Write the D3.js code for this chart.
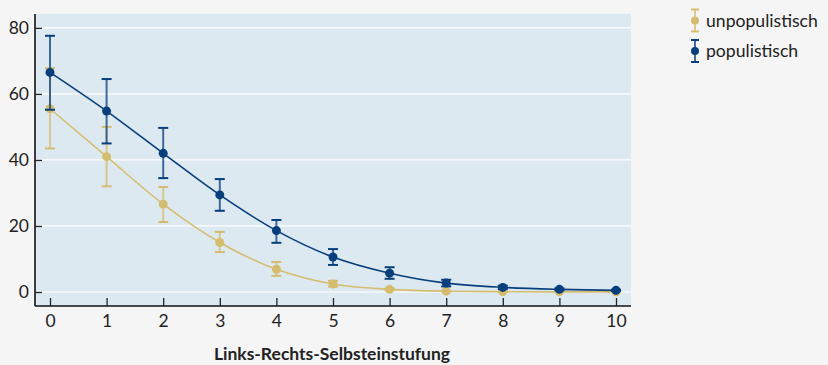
<!DOCTYPE html>
<html><head><meta charset="utf-8">
<script src="https://cdn.jsdelivr.net/npm/d3@7"></script>
<style>
body{margin:0;background:#f5f5f5;}
svg{display:block;font-family:Lato,"Open Sans",sans-serif;}
</style></head><body>
<svg id="c" width="828" height="365"></svg>
<script>
const xValues = [0,1,2,3,4,5,6,7,8,9,10];
const seriesNames = ["unpopulistisch","populistisch"];
const unpopMean  = [55.5,41.0,26.6,15.0,6.9,2.4,0.8,0.25,0.1,0.05,0.03];
const unpopLow   = [43.5,32.0,21.2,12.1,4.9,1.6,0.5,0.15,0.05,0.02,0.01];
const unpopHigh  = [67.8,50.0,31.8,18.2,9.1,3.4,1.1,0.35,0.15,0.08,0.05];
const popMean    = [66.5,54.8,42.0,29.4,18.6,10.6,5.7,2.7,1.4,0.8,0.5];
const popLow     = [55.2,45.0,34.5,24.6,14.9,8.2,4.0,1.7,0.9,0.5,0.3];
const popHigh    = [77.6,64.5,49.7,34.2,21.8,13.0,7.5,3.7,1.9,1.1,0.7];
const yTicks = [0,20,40,60,80];
const xLabel = "Links-Rechts-Selbsteinstufung";
const colors = ["#d5bd70","#073f7c"];

const svg = d3.select("#c");
const L=35, R=631, T=14, B=306;
const x = d3.scaleLinear().domain([-0.265,10.265]).range([L,R]);
const y = d3.scaleLinear().domain([-4.24,84.2]).range([B,T]);

svg.append("rect").attr("x",L).attr("y",T).attr("width",R-L).attr("height",B-T).attr("fill","#dde9f1");
svg.append("g").selectAll("line").data(yTicks).join("line")
  .attr("x1",L).attr("x2",R).attr("y1",d=>y(d)).attr("y2",d=>y(d))
  .attr("stroke","#fff").attr("stroke-width",1.2);

const yAxis = svg.append("g").attr("transform",`translate(${L},0)`)
  .call(d3.axisLeft(y).tickValues(yTicks).tickSize(-7).tickPadding(6));
const xAxis = svg.append("g").attr("transform",`translate(0,${B})`)
  .call(d3.axisBottom(x).tickValues(xValues).tickSize(-8).tickPadding(9));
[yAxis,xAxis].forEach(a=>{
  a.select(".domain").attr("stroke","#111").attr("stroke-width",1.6);
  a.selectAll(".tick line").attr("stroke","#222").attr("stroke-width",1.3);
  a.selectAll("text").attr("font-size",17.5).attr("fill","#222").attr("font-family","Lato");
});
xAxis.select(".domain").attr("d",`M${L},0H${R}`);
yAxis.select(".domain").attr("d",`M0,${T}V${B}`);

svg.append("text").attr("x",332).attr("y",360).attr("text-anchor","middle")
  .attr("font-size",17.5).attr("font-weight","bold").attr("fill","#222").text(xLabel);

const data = [
  {mean:unpopMean,low:unpopLow,high:unpopHigh},
  {mean:popMean,low:popLow,high:popHigh}
];
const line = d3.line().x((d,i)=>x(xValues[i])).y(d=>y(d)).curve(d3.curveMonotoneX);
data.forEach((s,k)=>{
  const g = svg.append("g");
  const c = colors[k];
  g.append("path").attr("d",line(s.mean)).attr("fill","none").attr("stroke",c).attr("stroke-width",1.6);
  const eb = g.selectAll("g.eb").data(xValues).join("g");
  eb.append("line").attr("x1",d=>x(d)).attr("x2",d=>x(d))
    .attr("y1",(d,i)=>y(s.low[i])).attr("y2",(d,i)=>y(s.high[i]))
    .attr("stroke",c).attr("stroke-width",2).attr("opacity",0.75);
  ["low","high"].forEach(key=>{
    eb.append("line").attr("x1",d=>x(d)-5).attr("x2",d=>x(d)+5)
      .attr("y1",(d,i)=>y(s[key][i])).attr("y2",(d,i)=>y(s[key][i]))
      .attr("stroke",c).attr("stroke-width",2);
  });
  eb.append("circle").attr("cx",d=>x(d)).attr("cy",(d,i)=>y(s.mean[i])).attr("r",4.5).attr("fill",c);
});

// legend
const lg = svg.append("g");
seriesNames.forEach((n,k)=>{
  const cy = 20.5 + k*30.5, cx = 695, c = colors[k];
  lg.append("line").attr("x1",cx).attr("x2",cx).attr("y1",cy-11).attr("y2",cy+11).attr("stroke",c).attr("stroke-width",2).attr("opacity",0.75);
  [cy-11,cy+11].forEach(yy=>lg.append("line").attr("x1",cx-4).attr("x2",cx+4).attr("y1",yy).attr("y2",yy).attr("stroke",c).attr("stroke-width",2));
  lg.append("circle").attr("cx",cx).attr("cy",cy).attr("r",4).attr("fill",c);
  lg.append("text").attr("x",706).attr("y",cy).attr("dy","0.35em").attr("font-size",17.6).attr("fill","#222").text(n);
});
</script>
</body></html>
